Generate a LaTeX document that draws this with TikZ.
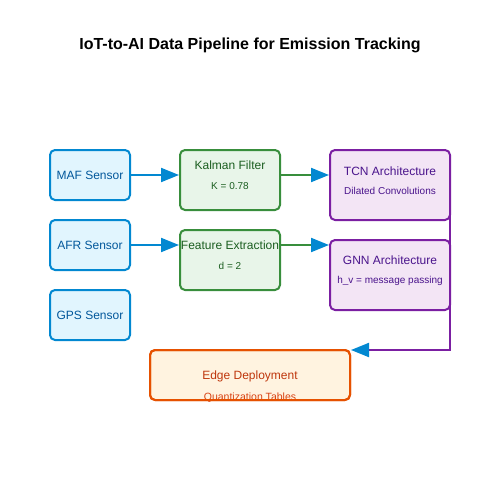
\documentclass[tikz,border=0pt]{standalone}
\usepackage{fontspec}
\setmainfont{Liberation Sans}
\usetikzlibrary{arrows.meta}
\definecolor{bfill}{HTML}{E1F5FE}\definecolor{bline}{HTML}{0288D1}\definecolor{btext}{HTML}{01579B}
\definecolor{gfill}{HTML}{E8F5E9}\definecolor{gline}{HTML}{388E3C}\definecolor{gtext}{HTML}{1B5E20}
\definecolor{pfill}{HTML}{F3E5F5}\definecolor{pline}{HTML}{7B1FA2}\definecolor{ptext}{HTML}{4A148C}
\definecolor{ofill}{HTML}{FFF3E0}\definecolor{oline}{HTML}{E65100}\definecolor{otext}{HTML}{BF360C}\definecolor{osub}{HTML}{D84315}
\tikzset{
  box/.style={draw, line width=2pt, rounded corners=5pt, inner sep=0pt},
  sensor/.style={box, fill=bfill, draw=bline, minimum width=80pt, minimum height=50pt},
  proc/.style={box, fill=gfill, draw=gline, minimum width=100pt, minimum height=60pt},
  model/.style={box, fill=pfill, draw=pline, minimum width=120pt, minimum height=70pt},
  deploy/.style={box, fill=ofill, draw=oline, minimum width=200pt, minimum height=50pt},
  lbl/.style={inner sep=0pt, font=\fontsize{12}{14}\selectfont},
  sub/.style={inner sep=0pt, font=\fontsize{10}{12}\selectfont},
  conn/.style={line width=2pt, -{Triangle[length=18pt,width=14pt,fill=bline,color=bline]}},
}
\begin{document}
\begin{tikzpicture}[x=1pt,y=-1pt]
\useasboundingbox (0,0) rectangle (500,500);
\node[inner sep=0pt, font=\bfseries\fontsize{16}{19}\selectfont] (title) at (250,45) {IoT-to-AI Data Pipeline for Emission Tracking};
% boxes
\node[sensor] (maf) at (90,175) {};
\node[lbl, text=btext] (maft) at (90,175) {MAF Sensor};
\node[sensor] (afr) at (90,245) {};
\node[lbl, text=btext] (afrt) at (90,245) {AFR Sensor};
\node[sensor] (gps) at (90,315) {};
\node[lbl, text=btext] (gpst) at (90,315) {GPS Sensor};
\node[proc] (kal) at (230,180) {};
\node[lbl, text=gtext] (kalt) at (230,165) {Kalman Filter};
\node[sub, text=gtext] (kals) at (230,186) {K = 0.78};
\node[proc] (feat) at (230,260) {};
\node[lbl, text=gtext] (featt) at (230,245) {Feature Extraction};
\node[sub, text=gtext] (feats) at (230,266) {d = 2};
% deployment box (border drawn over its text)
\node[deploy] (edge) at (250,375) {};
\node[lbl, text=otext] (edget) at (250,376) {Edge Deployment};
\node[sub, text=osub, font=\fontsize{10.5}{12}\selectfont] (edges) at (250,397.5) {Quantization Tables};
\draw[oline, line width=2pt, rounded corners=5pt] (150,350) rectangle (350,400);
% model connector behind model boxes
\coordinate (corner) at (450,350);
\draw[pline, line width=2pt, line cap=rect] (450,185) -- (corner);
\draw[conn, pline] (corner) -- (edge.north east |- corner);
\node[model] (tcn) at (390,185) {};
\node[lbl, text=ptext] (tcnt) at (390,171) {TCN Architecture};
\node[sub, text=ptext] (tcns) at (390,191) {Dilated Convolutions};
\node[model] (gnn) at (390,275) {};
\node[lbl, text=ptext] (gnnt) at (390,260) {GNN Architecture};
\node[sub, text=ptext] (gnns) at (390,281) {h\_v = message passing};
\draw[pline, line width=2pt] (450,218) -- (450,242);
\draw[pline, line width=2pt] (450,308) -- (450,330);
% connectors
\draw[conn, bline] (maf.east) -- (kal.west |- maf.east);
\draw[conn, bline] (afr.east) -- (feat.west |- afr.east);
\draw[conn, gline] (kal.east |- maf.east) -- (tcn.west |- maf.east);
\draw[conn, gline] (feat.east |- afr.east) -- (gnn.west |- afr.east);
\end{tikzpicture}
\end{document}
